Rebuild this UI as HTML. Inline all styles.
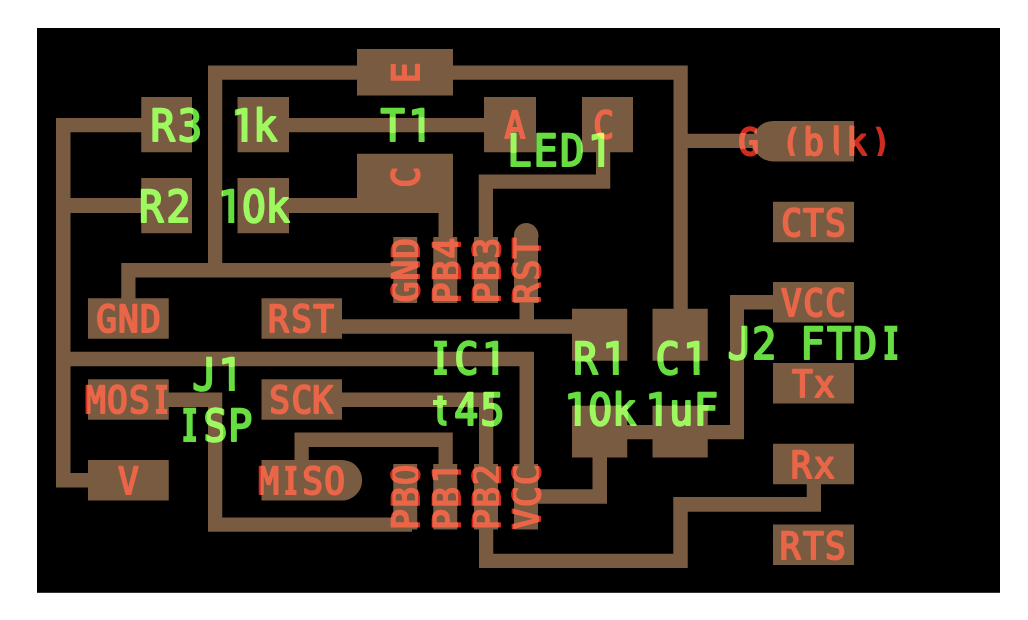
<!DOCTYPE html>
<html lang="en">
<head>
<meta charset="utf-8">
<title>hello.ftdi.45 board</title>
<style>
html,body{margin:0;padding:0;background:#fff;}
body{width:1028px;height:620px;overflow:hidden;}
svg{display:block;}
text{font-family:"DejaVu Sans Mono","Liberation Mono",monospace;text-anchor:middle;stroke-linejoin:round;text-rendering:geometricPrecision;}
.r{font-size:37.5px;stroke-width:2.0;fill:#ea6648;stroke:#ea6648;}
.g{font-size:44.0px;stroke-width:2.1;fill:#9ef85f;stroke:#9ef85f;}
.lighten{mix-blend-mode:lighten;}
.mult{mix-blend-mode:multiply;}
</style>
</head>
<body>
<svg width="1028" height="620" viewBox="0 0 1028 620">
<defs>
<path id="cu" d="M141.25 97H192V152.25H141.25Z
M237.5 97H289V152.25H237.5Z
M141.25 178H192V233.25H141.25Z
M237.5 178H289V233.25H237.5Z
M357 49H453V95.5H357Z
M357 153.75H453V200.25H357Z
M484 97H536V152.25H484Z
M582 97H633V152.25H582Z
M393.25 237H417.25V303H393.25Z
M393.25 464H417.25V529.5H393.25Z
M433.25 237H457.25V303H433.25Z
M433.25 464H457.25V529.5H433.25Z
M474 237H498V303H474Z
M474 464H498V529.5H474Z
M514 237H538V303H514Z
M514 464H538V529.5H514Z
M88 298.25H168.75V338.75H88Z
M261.5 298.25H342V338.75H261.5Z
M88 379.25H168.75V419.75H88Z
M261.5 379.25H342V419.75H261.5Z
M88 460H168.75V500.5H88Z
M261.5 460H342V500.5H261.5Z
M572 308.75H627.25V360.75H572Z
M572 405.75H627.25V457.5H572Z
M652.5 308.75H707.75V360.75H652.5Z
M652.5 405.75H707.75V457.5H652.5Z
M773 121H854V161.6H773Z
M773 201.75H854V242.35H773Z
M773 282H854V322.6H773Z
M773 363H854V403.6H773Z
M773 443.75H854V484.35H773Z
M773 524.5H854V565.1H773Z
M56 118H70.5V487.5H56Z
M56 118H142V132.25H56Z
M56 198H142V213H56Z
M56 351.75H534V366.25H56Z
M56 473H89V487.5H56Z
M519.5 351.75H534V465H519.5Z
M208 65.5H687.75V79.75H208Z
M208 65.5H222.25V277.5H208Z
M121.25 263H394V277.5H121.25Z
M121.25 263H135.5V299H121.25Z
M673.5 65.5H687.75V309H673.5Z
M673.5 133.75H760V148H673.5Z
M288 118H485V132.25H288Z
M288 198H453V213H288Z
M438.5 199H453V238H438.5Z
M478.75 174.5H493V238H478.75Z
M478.75 174.5H610.25V188.75H478.75Z
M596 151H610.25V188.75H596Z
M341 319.25H573V333.75H341Z
M519.5 302H534V333.75H519.5Z
M341 392.5H493.25V407H341Z
M479 392.5H493.25V568H479Z
M479 553.75H687.75V568H479Z
M673.25 497H687.75V568H673.25Z
M673.25 497H821V511.75H673.25Z
M806.75 483H821V511.75H806.75Z
M168 392.5H222.25V407H168Z
M208 392.5H222.25V531.75H208Z
M208 517.5H412V531.75H208Z
M294.5 432.5H308.75V461H294.5Z
M294.5 432.5H452.75V447H294.5Z
M438.5 432.5H452.75V465H438.5Z
M626 425H744V439.25H626Z
M730 295H744V439.25H730Z
M730 295H774V309.5H730Z
M592.5 456H607V503.75H592.5Z
M537 489.25H607V503.75H537Z
M321.8 480.25A20.2 20.2 0 0 1 362.2 480.25A20.2 20.2 0 0 1 321.8 480.25Z
M752.8 141.2A20.2 20.2 0 0 1 793.2 141.2A20.2 20.2 0 0 1 752.8 141.2Z
M513.9 235.4A12.3 12.3 0 0 1 538.5 235.4A12.3 12.3 0 0 1 513.9 235.4Z"/>
<mask id="nc" maskUnits="userSpaceOnUse" x="0" y="0" width="1028" height="620">
<rect x="0" y="0" width="1028" height="620" fill="#fff"/>
<use href="#cu" fill="#000" stroke="#000" stroke-width="1.6"/>
</mask>
<mask id="zc" maskUnits="userSpaceOnUse" x="0" y="0" width="1028" height="620">
<g fill="#fff">
<rect x="233.84" y="135.63" width="7.66" height="7.37"/>
<rect x="247.5" y="135.63" width="6.8" height="7.37"/>
<rect x="410.94" y="135.63" width="7.66" height="7.37"/>
<rect x="424.6" y="135.63" width="6.8" height="7.37"/>
<rect x="590.54" y="160.63" width="7.66" height="7.37"/>
<rect x="604.2" y="160.63" width="6.8" height="7.37"/>
<rect x="220.64" y="216.63" width="7.66" height="7.37"/>
<rect x="234.3" y="216.63" width="6.8" height="7.37"/>
<ellipse cx="253.9" cy="205.9" rx="4.7" ry="5"/>
<rect x="430.33" y="339.63" width="3.77" height="7.67"/>
<rect x="446.9" y="339.63" width="3.77" height="7.67"/>
<rect x="430.33" y="368.53" width="3.77" height="7.5"/>
<rect x="446.9" y="368.53" width="3.77" height="7.5"/>
<rect x="484.64" y="368.63" width="7.66" height="7.37"/>
<rect x="498.3" y="368.63" width="6.8" height="7.37"/>
<rect x="430.42" y="392" width="2.58" height="35"/>
<rect x="446.6" y="392" width="5.49" height="35"/>
<rect x="430.42" y="392" width="21.67" height="3.5"/>
<rect x="605.19" y="368.63" width="7.66" height="7.37"/>
<rect x="618.85" y="368.63" width="6.8" height="7.37"/>
<rect x="567.04" y="419.63" width="7.66" height="7.37"/>
<rect x="580.7" y="419.63" width="6.8" height="7.37"/>
<ellipse cx="600.3" cy="408.9" rx="4.7" ry="5"/>
<rect x="685.94" y="368.63" width="7.66" height="7.37"/>
<rect x="699.6" y="368.63" width="6.8" height="7.37"/>
<rect x="648.04" y="419.63" width="7.66" height="7.37"/>
<rect x="661.7" y="419.63" width="6.8" height="7.37"/>
<rect x="727.56" y="324.63" width="13.87" height="7.67"/>
<rect x="880.73" y="324.63" width="3.77" height="7.67"/>
<rect x="897.3" y="324.63" width="3.77" height="7.67"/>
<rect x="880.73" y="353.53" width="3.77" height="7.5"/>
<rect x="897.3" y="353.53" width="3.77" height="7.5"/>
<rect x="192.31" y="355.63" width="13.87" height="7.67"/>
<rect x="221.19" y="384.63" width="7.66" height="7.37"/>
<rect x="234.85" y="384.63" width="6.8" height="7.37"/>
<rect x="179.53" y="406.63" width="3.77" height="7.67"/>
<rect x="196.1" y="406.63" width="3.77" height="7.67"/>
<rect x="179.53" y="435.53" width="3.77" height="7.5"/>
<rect x="196.1" y="435.53" width="3.77" height="7.5"/>
<rect x="152.49" y="383.47" width="3.4" height="7"/>
<rect x="167.09" y="383.47" width="3.23" height="7"/>
<rect x="152.49" y="408.03" width="3.4" height="7"/>
<rect x="167.09" y="408.03" width="3.23" height="7"/>
<rect x="281.83" y="464.47" width="3.4" height="7"/>
<rect x="296.44" y="464.47" width="3.23" height="7"/>
<rect x="281.83" y="489.03" width="3.4" height="7"/>
<rect x="296.44" y="489.03" width="3.23" height="7"/>
<rect x="786.47" y="124.5" width="11.67" height="2.17"/>
<rect x="786.47" y="156" width="11.67" height="6"/>
<rect x="827.8" y="124.13" width="6" height="6.5"/>
<rect x="838.8" y="149.37" width="7.67" height="7.66"/>
<rect x="874.46" y="124.5" width="11.67" height="2.17"/>
<rect x="874.46" y="156" width="11.67" height="6"/>
<ellipse transform="translate(419,528.55) rotate(-90)" cx="53.75" cy="-13.75" rx="4.04" ry="4.3"/>
<rect transform="translate(460,528.55) rotate(-90)" x="47.16" y="-4.87" width="6.67" height="6.87"/>
<rect transform="translate(460,528.55) rotate(-90)" x="59.16" y="-4.87" width="5.97" height="6.87"/>
</g>
</mask>
</defs>
<!-- board -->
<rect x="0" y="0" width="1028" height="620" fill="#fff"/>
<rect x="37" y="28" width="963" height="564.8" fill="#000"/>
<!-- copper traces and pads -->
<use href="#cu" fill="#785b40"/>
<!-- pin labels -->
<g>
<text class="r" transform="scale(0.92,1)" x="115.92 139.57 163.39" y="332">GND</text>
<text class="r" transform="scale(0.92,1)" x="103.7 127.61 151.52 175.53" y="413">MOSI</text>
<text class="r" transform="scale(0.92,1)" x="139.57" y="494">V</text>
<text class="r" transform="scale(0.92,1)" x="302.72 327.99 351.9" y="332">RST</text>
<text class="r" transform="scale(0.92,1)" x="304.08 328.17 350.72" y="413">SCK</text>
<text class="r" transform="scale(0.92,1)" x="292.12 316.12 339.95 363.86" y="494">MISO</text>
<text class="r" transform="scale(0.92,1)" x="813.64 837.28 860.47 884.39 910.29 931.03 957.57" y="155">G (blk)</text>
<text class="r" transform="scale(0.92,1)" x="860.51 884.24 908.15" y="236">CTS</text>
<text class="r" transform="scale(0.92,1)" x="860.33 884.42 908.33" y="316">VCC</text>
<text class="r" transform="scale(0.92,1)" x="872.28 896.2" y="397">Tx</text>
<text class="r" transform="scale(0.92,1)" x="870.92 896.2" y="478">Rx</text>
<text class="r" transform="scale(0.92,1)" x="858.97 884.24 908.15" y="559">RTS</text>
<text class="r" transform="scale(0.92,1)" x="559.62" y="138">A</text>
<text class="r" transform="scale(0.92,1)" x="656.27" y="138">C</text>
<text class="r" transform="translate(419,82.15) rotate(-90) scale(0.92,1)" x="9.96" y="0">E</text>
<text class="r" transform="translate(419,187.05) rotate(-90) scale(0.92,1)" x="10.78" y="0">C</text>
<text class="r" transform="translate(419,301.95) rotate(-90) scale(0.92,1)" x="10.87 34.51 58.33" y="0">GND</text>
<text class="r" transform="translate(419,528.55) rotate(-90) scale(0.92,1)" x="9.6 33.88 58.42" y="0">PB0</text>
<text class="r" transform="translate(460,301.95) rotate(-90) scale(0.92,1)" x="9.6 33.88 58.42" y="0">PB4</text>
<text class="r" transform="translate(460,528.55) rotate(-90) scale(0.92,1)" x="9.6 33.88 60.15" y="0">PB1</text>
<text class="r" transform="translate(500,301.95) rotate(-90) scale(0.92,1)" x="9.6 33.88 58.6" y="0">PB3</text>
<text class="r" transform="translate(500,528.55) rotate(-90) scale(0.92,1)" x="9.6 33.88 58.61" y="0">PB2</text>
<text class="r" transform="translate(540,301.95) rotate(-90) scale(0.92,1)" x="9.24 34.51 58.42" y="0">RST</text>
<text class="r" transform="translate(540,528.55) rotate(-90) scale(0.92,1)" x="10.6 34.69 58.6" y="0">VCC</text>
</g>
<g class="mult" mask="url(#nc)" fill="#e06e69">
<rect x="91.65" y="299.75" width="73.5" height="37.5"/>
<rect x="80.65" y="380.85" width="95.5" height="37.5"/>
<rect x="113.65" y="461.5" width="29.5" height="37.5"/>
<rect x="265" y="299.75" width="73.5" height="37.5"/>
<rect x="265" y="380.85" width="73.5" height="37.5"/>
<rect x="254" y="461.5" width="95.5" height="37.5"/>
<rect x="733.55" y="122.45" width="161.5" height="41.5"/>
<rect x="776.75" y="203.05" width="73.5" height="37.5"/>
<rect x="776.75" y="283.55" width="73.5" height="37.5"/>
<rect x="787.75" y="364.65" width="51.5" height="37.5"/>
<rect x="787.75" y="445.35" width="51.5" height="37.5"/>
<rect x="776.75" y="526.05" width="73.5" height="37.5"/>
<rect x="500.1" y="105.9" width="29.5" height="37.5"/>
<rect x="588.85" y="105.9" width="29.5" height="37.5"/>
<rect x="386.65" y="57.65" width="37.5" height="29.5"/>
<rect x="386.65" y="162.55" width="37.5" height="29.5"/>
<rect x="386.75" y="233.45" width="37.5" height="73.5"/>
<rect x="386.75" y="460.05" width="37.5" height="73.5"/>
<rect x="427.05" y="233.45" width="37.5" height="73.5"/>
<rect x="427.05" y="460.05" width="37.5" height="73.5"/>
<rect x="467.35" y="233.45" width="37.5" height="73.5"/>
<rect x="467.35" y="460.05" width="37.5" height="73.5"/>
<rect x="507.65" y="233.45" width="37.5" height="73.5"/>
<rect x="507.65" y="460.05" width="37.5" height="73.5"/>
</g>
<!-- component labels -->
<g class="lighten">
<text class="g" transform="scale(0.92,1)" x="176.83 206.59" y="141">R3</text>
<text class="g" transform="scale(0.92,1)" x="264.32 288.15" y="141">1k</text>
<text class="g" transform="scale(0.92,1)" x="426.74 456.82" y="141">T1</text>
<text class="g" transform="scale(0.92,1)" x="564.51 593.28 621.86 652.03" y="166">LED1</text>
<text class="g" transform="scale(0.92,1)" x="164.22 194.08" y="222">R2</text>
<text class="g" transform="scale(0.92,1)" x="249.97 275.98 301.85" y="222">10k</text>
<text class="g" transform="scale(0.92,1)" x="478.8 507.03 536.92" y="374">IC1</text>
<text class="g" transform="scale(0.92,1)" x="480.35 506.85 535.16" y="425">t45</text>
<text class="g" transform="scale(0.92,1)" x="636.34 667.96" y="374">R1</text>
<text class="g" transform="scale(0.92,1)" x="626.49 652.5 678.37" y="425">10k</text>
<text class="g" transform="scale(0.92,1)" x="725.83 755.73" y="374">C1</text>
<text class="g" transform="scale(0.92,1)" x="714.53 740.45 767.32" y="425">1uF</text>
<text class="g" transform="scale(0.92,1)" x="804.09 830.6" y="359">J2</text>
<text class="g" transform="scale(0.92,1)" x="882.97 912.28 940.23 968.37" y="359">FTDI</text>
<text class="g" transform="scale(0.92,1)" x="222.3 250.57" y="390">J1</text>
<text class="g" transform="scale(0.92,1)" x="206.2 234.15 261.2" y="441">ISP</text>
</g>
<g class="mult" mask="url(#nc)" fill="#a6e4b1">
<rect x="147.5" y="103.7" width="59" height="42.3"/>
<rect x="224.7" y="103.7" width="59" height="42.3"/>
<rect x="376" y="103.7" width="59" height="42.3"/>
<rect x="504" y="129.2" width="110.6" height="42.3"/>
<rect x="135.9" y="184.7" width="59" height="42.3"/>
<rect x="211.5" y="184.7" width="84.8" height="42.3"/>
<rect x="423.9" y="336.9" width="84.8" height="42.3"/>
<rect x="423.9" y="387.4" width="84.8" height="42.3"/>
<rect x="570.25" y="336.9" width="59" height="42.3"/>
<rect x="557.9" y="387.4" width="84.8" height="42.3"/>
<rect x="651" y="336.9" width="59" height="42.3"/>
<rect x="638.9" y="387.4" width="84.8" height="42.3"/>
<rect x="721.5" y="321.8" width="59" height="42.3"/>
<rect x="796.9" y="321.8" width="110.6" height="42.3"/>
<rect x="186.25" y="353.2" width="59" height="42.3"/>
<rect x="173.1" y="403.7" width="84.8" height="42.3"/>
</g>
<!-- background patches trimming glyph details: open zero counters, plain stems on 1, l and J, short serifs on I, narrow t, cap-height parentheses -->
<g mask="url(#zc)">
<rect x="37" y="28" width="963" height="564.8" fill="#000"/>
<use href="#cu" fill="#785b40"/>
</g>
</svg>
</body>
</html>
